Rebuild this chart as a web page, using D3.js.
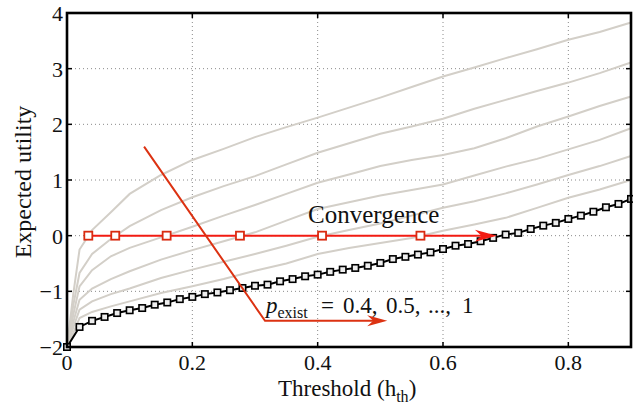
<!DOCTYPE html>
<html><head><meta charset="utf-8">
<script src="https://cdn.jsdelivr.net/npm/d3@7"></script>
<style>body{margin:0;background:#fff}svg{display:block}</style>
</head><body><svg id="c" width="633" height="405"></svg>
<script>
// grey curves sample thresholds
const xs = [0,0.01,0.02,0.04,0.07,0.1,0.15,0.2,0.25,0.3,0.35,0.4,0.45,0.5,0.55,0.6,0.65,0.7,0.75,0.8,0.85,0.9];
const p10 = [-2,-1.05,-0.25,0.10,0.42,0.75,1.09,1.36,1.56,1.77,1.95,2.12,2.30,2.48,2.67,2.86,3.02,3.19,3.35,3.52,3.66,3.83];
const p09 = [-2,-1.25,-0.67,-0.33,-0.06,0.17,0.46,0.69,0.89,1.07,1.28,1.49,1.66,1.83,1.96,2.10,2.28,2.44,2.60,2.75,2.92,3.11];
const p08 = [-2,-1.42,-0.91,-0.62,-0.37,-0.22,-0.03,0.16,0.36,0.55,0.75,0.95,1.10,1.25,1.36,1.45,1.57,1.75,1.96,2.14,2.33,2.50];
const p07 = [-2,-1.55,-1.15,-0.95,-0.78,-0.64,-0.43,-0.26,-0.10,0.06,0.27,0.48,0.60,0.72,0.82,0.92,1.08,1.24,1.38,1.55,1.72,1.93];
const p06 = [-2,-1.65,-1.33,-1.18,-1.05,-0.95,-0.76,-0.61,-0.47,-0.33,-0.18,-0.02,0.10,0.22,0.36,0.50,0.62,0.76,0.92,1.09,1.25,1.43];
const p05 = [-2,-1.75,-1.48,-1.37,-1.27,-1.18,-1.03,-0.91,-0.78,-0.63,-0.50,-0.33,-0.22,-0.13,-0.04,0.09,0.20,0.32,0.50,0.68,0.83,1.00];
// black curve (p_exist = 0.4), thresholds 0..0.9 step 0.02
const xsB = [0,0.02,0.04,0.06,0.08,0.10,0.12,0.14,0.16,0.18,0.20,0.22,0.24,0.26,0.28,0.30,0.32,0.34,0.36,0.38,0.40,0.42,0.44,0.46,0.48,0.50,0.52,0.54,0.56,0.58,0.60,0.62,0.64,0.66,0.68,0.70,0.72,0.74,0.76,0.78,0.80,0.82,0.84,0.86,0.88,0.90];
const p04 = [-2,-1.64,-1.53,-1.46,-1.39,-1.34,-1.30,-1.24,-1.20,-1.14,-1.10,-1.05,-1.02,-0.98,-0.94,-0.90,-0.88,-0.82,-0.78,-0.73,-0.70,-0.65,-0.61,-0.58,-0.54,-0.49,-0.42,-0.38,-0.34,-0.30,-0.24,-0.18,-0.15,-0.10,-0.04,0.02,0.05,0.12,0.18,0.23,0.30,0.36,0.43,0.51,0.57,0.66];
// convergence points (zero crossings)
const convX = [0.034,0.077,0.159,0.276,0.407,0.564];
const convEnd = 0.686;
// annotation arrow (data coords)
const annot = [[0.123,1.60],[0.316,-1.53],[0.511,-1.53]];
const xTicks = [0,0.2,0.4,0.6,0.8];
const yTicks = [-2,-1,0,1,2,3,4];
const pValues = ["0.4,","0.5,","...,","1"];

const W=633,H=405, m={l:67,r:2,t:13,b:58};
const FONT="Liberation Serif";
const svg=d3.select("#c");
const x=d3.scaleLinear().domain([0,0.9]).range([m.l,W-m.r]);
const y=d3.scaleLinear().domain([-2,4]).range([H-m.b,m.t]);
const fmtY=d=>d<0?"\u2212"+Math.abs(d):String(d);
const txt=(sel,size)=>sel.append("text").style("font-family",FONT).attr("font-size",size).attr("fill","#111");

// grid
const g=svg.append("g");
g.selectAll(".gx").data(xTicks.filter(d=>d>0)).join("line")
 .attr("x1",d=>x(d)).attr("x2",d=>x(d)).attr("y1",y(-2)).attr("y2",y(4))
 .attr("stroke","#8a8a8a").attr("stroke-width",1).attr("stroke-dasharray","1,3");
g.selectAll(".gy").data(yTicks.filter(d=>d>-2&&d<4)).join("line")
 .attr("y1",d=>y(d)).attr("y2",d=>y(d)).attr("x1",x(0)).attr("x2",x(0.9))
 .attr("stroke","#8a8a8a").attr("stroke-width",1).attr("stroke-dasharray","1,3");

// grey curves
const greys=[p10,p09,p08,p07,p06,p05];
const line=d3.line().x(d=>x(d[0])).y(d=>y(d[1]));
greys.forEach(s=>{
  svg.append("path").attr("d",line(xs.map((v,i)=>[v,s[i]])))
   .attr("fill","none").attr("stroke","#d3cfc8").attr("stroke-width",2);
});

// black curve
const bd=xsB.map((v,i)=>[v,p04[i]]);
svg.append("path").attr("d",line(bd)).attr("fill","none").attr("stroke","#000").attr("stroke-width",2);
svg.selectAll(".mk").data(bd).join("rect")
 .attr("x",d=>x(d[0])-3.2).attr("y",d=>y(d[1])-3.2).attr("width",6.4).attr("height",6.4)
 .attr("fill","#eee").attr("stroke","#000").attr("stroke-width",1.6);

// arrow head helper
function head(x0,y0,x1,y1,col,len,hw){
  const a=Math.atan2(y1-y0,x1-x0), c=Math.cos(a), s=Math.sin(a);
  const bx=x1-len*c, by=y1-len*s, nx=x1-len*0.7*c, ny=y1-len*0.7*s;
  const p=[[x1,y1],[bx-hw*s,by+hw*c],[nx,ny],[bx+hw*s,by-hw*c]];
  svg.append("path").attr("d","M"+p.map(q=>q.join(",")).join("L")+"Z").attr("fill",col);
}

// convergence line
const red="#f21b12";
svg.append("line").attr("x1",x(convX[0])).attr("x2",x(convEnd)-10).attr("y1",y(0)).attr("y2",y(0))
 .attr("stroke",red).attr("stroke-width",2);
head(x(convX[0]),y(0),x(convEnd),y(0),red,22,6);
svg.selectAll(".cv").data(convX).join("rect")
 .attr("x",d=>x(d)-4).attr("y",y(0)-4).attr("width",8).attr("height",8)
 .attr("fill","#fff").attr("stroke","#d92b10").attr("stroke-width",1.8);

// annotation arrow
const ac="#dc3212";
const ap=annot.map(d=>[x(d[0]),y(d[1])]);
svg.append("path").attr("d",d3.line()([ap[0],ap[1],[ap[2][0]-10,ap[2][1]]])).attr("fill","none").attr("stroke",ac).attr("stroke-width",2);
head(ap[1][0],ap[1][1],ap[2][0],ap[2][1],ac,20,5.5);

// texts
txt(svg,25).attr("x",308).attr("y",y(0)-13).text("Convergence");
const ly=y(-1.53)-8;
const t=txt(svg,23).attr("y",ly);
t.append("tspan").attr("x",266).attr("font-style","italic").text("p");
t.append("tspan").attr("font-size",16).attr("dy",5).text("exist");
t.append("tspan").attr("x",321).attr("dy",-5).text("=");
const pxPos=[343,386,428,462];
pValues.forEach((v,i)=>t.append("tspan").attr("x",pxPos[i]).text(v));

// frame and ticks
const fr=svg.append("g");
fr.append("rect").attr("x",x(0)).attr("y",y(4)).attr("width",x(0.9)-x(0)).attr("height",y(-2)-y(4))
 .attr("fill","none").attr("stroke","#000").attr("stroke-width",2.6);
xTicks.forEach(d=>{
  fr.append("line").attr("x1",x(d)).attr("x2",x(d)).attr("y1",y(-2)).attr("y2",y(-2)-5).attr("stroke","#000").attr("stroke-width",1.5);
  fr.append("line").attr("x1",x(d)).attr("x2",x(d)).attr("y1",y(4)).attr("y2",y(4)+5).attr("stroke","#000").attr("stroke-width",1.5);
  txt(svg,22).attr("x",x(d)).attr("y",y(-2)+23).attr("text-anchor","middle").text(d);
});
yTicks.forEach(d=>{
  fr.append("line").attr("y1",y(d)).attr("y2",y(d)).attr("x1",x(0)).attr("x2",x(0)+5).attr("stroke","#000").attr("stroke-width",1.5);
  fr.append("line").attr("y1",y(d)).attr("y2",y(d)).attr("x1",x(0.9)).attr("x2",x(0.9)-5).attr("stroke","#000").attr("stroke-width",1.5);
  txt(svg,22).attr("x",x(0)-4).attr("y",y(d)+8).attr("text-anchor","end").text(fmtY(d));
});

// axis titles
const xt=txt(svg,23).attr("x",278).attr("y",396);
xt.append("tspan").text("Threshold (h");
xt.append("tspan").attr("font-size",16).attr("dy",6).text("th");
xt.append("tspan").attr("dy",-6).text(")");
txt(svg,24).attr("transform","translate(31,182) rotate(-90)").attr("text-anchor","middle").text("Expected utility");
</script></body></html>
